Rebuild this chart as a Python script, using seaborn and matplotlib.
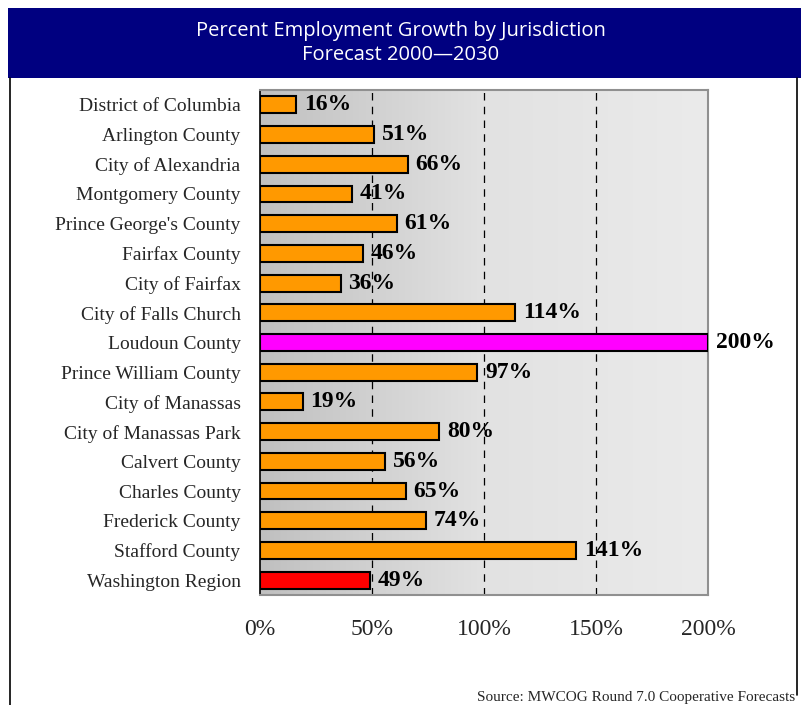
import matplotlib
matplotlib.use("Agg")
import matplotlib.pyplot as plt
from matplotlib.patches import Rectangle
from matplotlib.lines import Line2D
import numpy as np
import pandas as pd
import seaborn as sns

jurisdictions = [
    "District of Columbia", "Arlington County", "City of Alexandria",
    "Montgomery County", "Prince George's County", "Fairfax County",
    "City of Fairfax", "City of Falls Church", "Loudoun County",
    "Prince William County", "City of Manassas", "City of Manassas Park",
    "Calvert County", "Charles County", "Frederick County",
    "Stafford County", "Washington Region",
]
growth = [16, 51, 66, 41, 61, 46, 36, 114, 200, 97, 19, 80, 56, 65, 74, 141, 49]
bar_colors = ["#ff9900"] * 8 + ["#ff00ff"] + ["#ff9900"] * 7 + ["#ff0000"]
x_ticks = [0, 50, 100, 150, 200]

df = pd.DataFrame({"name": jurisdictions, "growth": growth})

sns.set_style("white")
plt.rcParams["font.family"] = ["Liberation Serif", "DejaVu Serif"]

fig = plt.figure(figsize=(8.01, 7.05), dpi=100)

# header band and frame
fig.patches.append(Rectangle((8 / 801, 1 - 78 / 705), 1 - 8 / 801, 70 / 705,
                             transform=fig.transFigure, facecolor="#000080",
                             edgecolor="none", zorder=0))
fig.lines.append(Line2D([10 / 801, 10 / 801], [0, 1 - 78 / 705],
                        transform=fig.transFigure, color="black", lw=1.2))
fig.lines.append(Line2D([797 / 801, 797 / 801], [10 / 705, 1 - 78 / 705],
                        transform=fig.transFigure, color="black", lw=1.2))
fig.text(0.5, 1 - 31 / 705, "Percent Employment Growth by Jurisdiction",
         ha="center", va="center", color="white", fontsize=14.5,
         family="Open Sans")
fig.text(0.5, 1 - 55 / 705, "Forecast 2000\u20142030",
         ha="center", va="center", color="white", fontsize=14.5,
         family="Open Sans")

ax = fig.add_axes([260 / 801, 1 - 595 / 705, 448 / 801, 505 / 705])

# gradient background
grad = np.linspace(0, 1, 256).reshape(1, -1)
cmap = matplotlib.colors.LinearSegmentedColormap.from_list(
    "bg", ["#c0c0c0", "#e2e2e2", "#ebebeb"])
ax.imshow(grad, cmap=cmap, aspect="auto", extent=[0, 200, 16.5, -0.5],
          zorder=0)

sns.barplot(data=df, x="growth", y="name", hue="name", palette=bar_colors,
            orient="h", legend=False, width=0.57, edgecolor="black",
            linewidth=1.5, saturation=1, ax=ax, zorder=3)

for xv in x_ticks[1:-1]:
    ax.axvline(xv, color="black", lw=0.9, ls=(0, (6, 5)), zorder=1)

for i, v in enumerate(growth):
    ax.text(v + 3.5, i, f"{v}%", va="center", ha="left", fontsize=17,
            fontweight="bold", color="black", zorder=4, clip_on=False)

ax.set_xlim(0, 200)
ax.set_ylim(16.5, -0.5)
ax.set_xticks(x_ticks)
ax.set_xticklabels([f"{t}%" for t in x_ticks], fontsize=17)
ax.set_yticks(range(len(jurisdictions)))
ax.set_yticklabels(jurisdictions, fontsize=14)
ax.set_yticks(np.arange(-0.5, 17, 1), minor=True)
ax.tick_params(axis="y", which="major", length=0, pad=14)
ax.tick_params(axis="y", which="minor", length=5, width=1, color="black",
               direction="out")
ax.tick_params(axis="x", length=6, width=1, color="black", direction="out",
               pad=11)
ax.set_xlabel("")
ax.set_ylabel("")

for side in ["top", "right", "bottom"]:
    ax.spines[side].set_color("#909090")
    ax.spines[side].set_linewidth(1.5)
ax.spines["left"].set_color("black")
ax.spines["left"].set_linewidth(1.2)

fig.text(795 / 801, 1 - 697 / 705, "Source: MWCOG Round 7.0 Cooperative Forecasts",
         ha="right", va="center", fontsize=11)

fig.savefig("out.png", dpi=100)
